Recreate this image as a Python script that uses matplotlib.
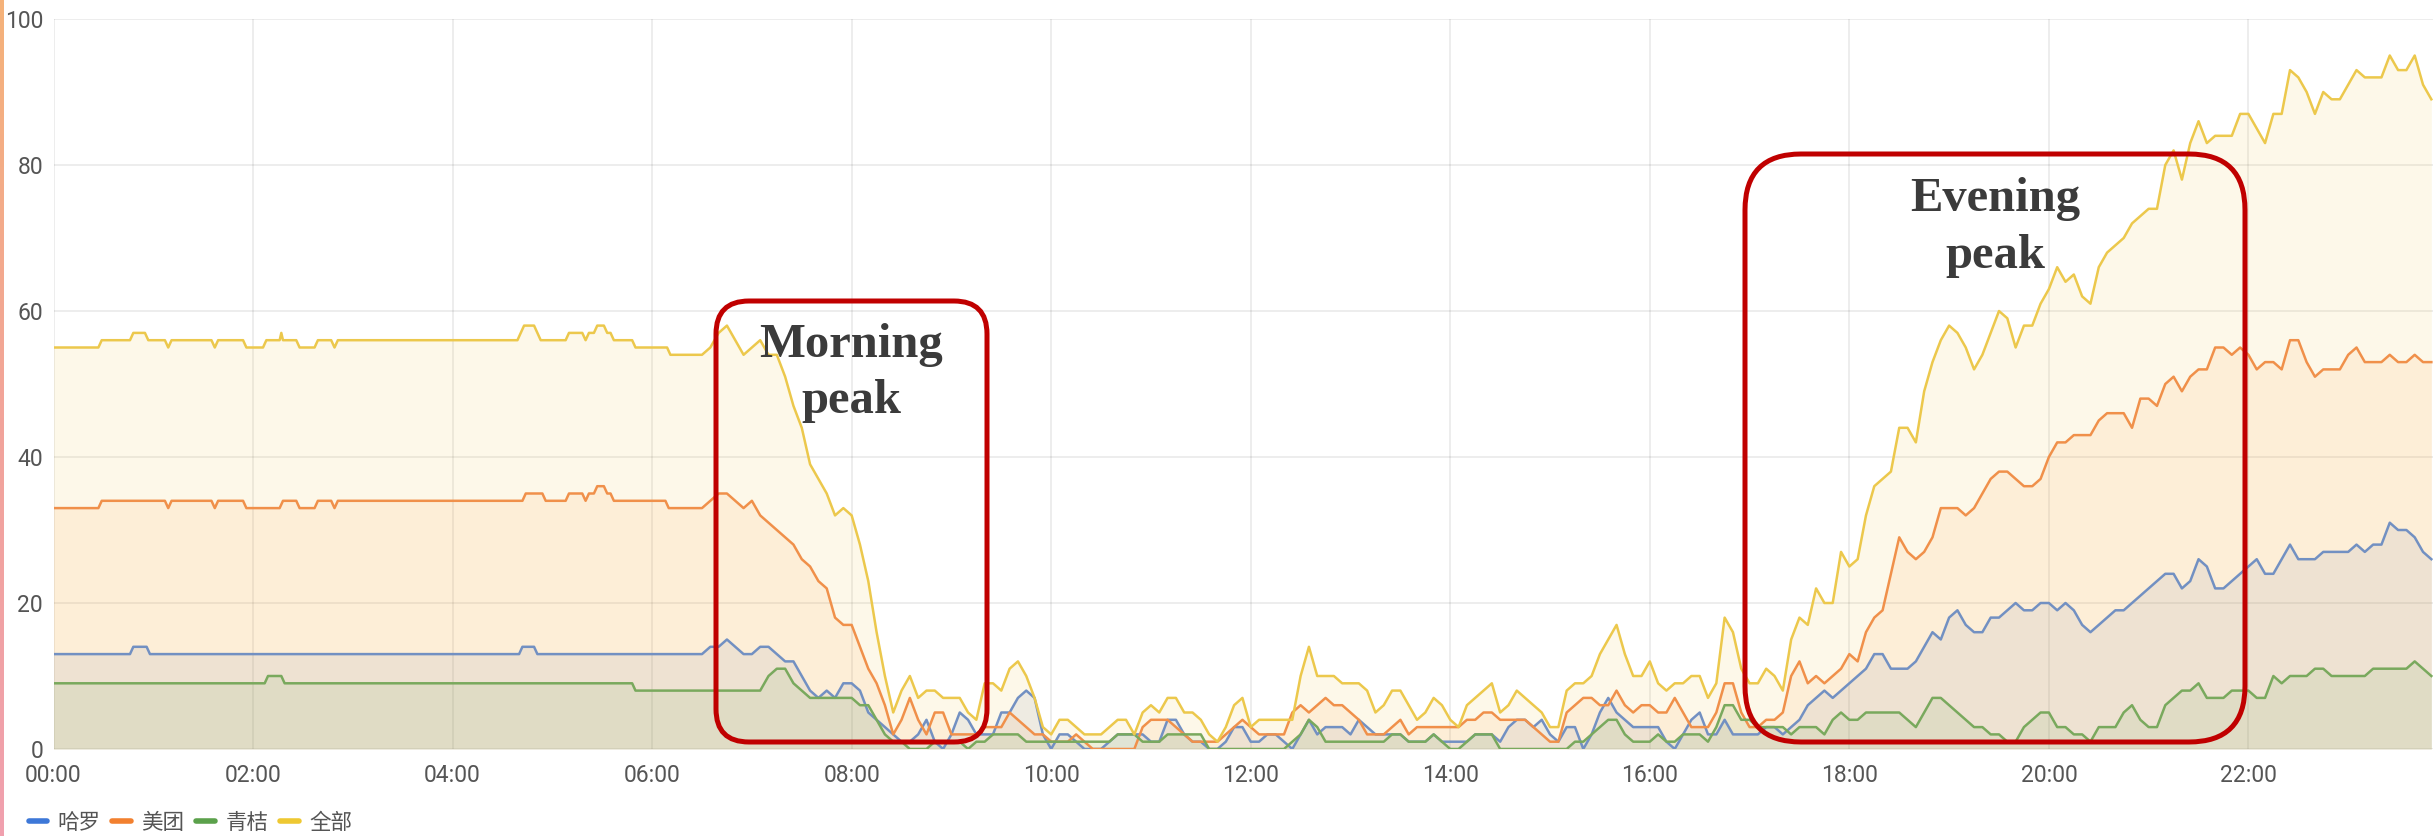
import numpy as np
import matplotlib.pyplot as plt
from matplotlib.lines import Line2D
from matplotlib.patches import FancyBboxPatch
from matplotlib.colors import LinearSegmentedColormap

plt.rcParams['font.family'] = ['Roboto', 'Noto Sans CJK SC', 'DejaVu Sans']

names = ['哈罗', '美团', '青桔', '全部']
line_colors = ['#7290c2', '#f0904a', '#79a95d', '#ecc84c']
legend_colors = ['#3d78d8', '#f2802f', '#5ba14b', '#eec832']
fill_colors = ['#6e82aa', '#ff7a10', '#56a64b', '#f0c850']
fill_alpha = [0.10, 0.08, 0.09, 0.12]

# 00:00-06:25 the counts hardly move, so only the steps are kept (minute, value)
quiet_t_hello = [0, 46, 48, 56, 58, 280, 282, 289, 291, 385]
quiet_hello = [13, 13, 14, 14, 13, 13, 14, 14, 13, 13]

quiet_t_meituan = [0, 27, 29, 67, 69, 71, 95, 97, 99, 114, 116, 136, 138, 146, 148,
                   157, 159, 167, 169, 171, 282, 284, 294, 296, 308, 310, 318, 320,
                   322, 325, 327, 331, 333, 335, 337, 368, 370, 385]
quiet_meituan = [33, 33, 34, 34, 33, 34, 34, 33, 34, 34, 33, 33, 34, 34, 33,
                 33, 34, 34, 33, 34, 34, 35, 35, 34, 34, 35, 35, 34,
                 35, 35, 36, 36, 35, 35, 34, 34, 33, 33]

quiet_t_qingju = [0, 127, 129, 137, 139, 348, 350, 385]
quiet_qingju = [9, 9, 10, 10, 9, 9, 8, 8]

quiet_t_all = [0, 27, 29, 46, 48, 55, 57, 67, 69, 71, 95, 97, 99, 114, 116, 126, 128,
               136, 137, 138, 146, 148, 157, 159, 167, 169, 171, 279, 281, 283, 289,
               291, 293, 308, 310, 318, 320, 322, 325, 327, 331, 333, 335, 337, 348,
               350, 369, 371, 385]
quiet_all = [55, 55, 56, 56, 57, 57, 56, 56, 55, 56, 56, 55, 56, 56, 55, 55, 56,
             56, 57, 56, 56, 55, 55, 56, 56, 55, 56, 56, 57, 58, 58,
             57, 56, 56, 57, 57, 56, 57, 57, 58, 58, 57, 57, 56, 56,
             55, 55, 54, 54]

# from 06:30 on: one reading every 5 minutes (rows are hours)
busy_t = list(range(390, 1431, 5))

busy_hello = [
    13, 14, 14, 15, 14, 13,
    13, 14, 14, 13, 12, 12, 10, 8, 7, 8, 7, 9,
    9, 8, 5, 4, 3, 2, 1, 1, 2, 4, 1, 0,
    2, 5, 4, 2, 2, 2, 5, 5, 7, 8, 7, 2,
    0, 2, 2, 1, 0, 0, 0, 1, 2, 2, 2, 2,
    1, 1, 4, 4, 2, 1, 1, 0, 0, 1, 3, 3,
    1, 1, 2, 2, 1, 0, 2, 4, 2, 3, 3, 3,
    2, 4, 3, 2, 2, 2, 2, 1, 1, 1, 2, 1,
    1, 1, 1, 2, 2, 2, 1, 3, 4, 4, 3, 4,
    2, 1, 3, 3, 0, 2, 5, 7, 5, 4, 3, 3,
    3, 3, 1, 0, 2, 4, 5, 2, 2, 4, 2, 2,
    2, 2, 3, 3, 2, 3, 4, 6, 7, 8, 7, 8,
    9, 10, 11, 13, 13, 11, 11, 11, 12, 14, 16, 15,
    18, 19, 17, 16, 16, 18, 18, 19, 20, 19, 19, 20,
    20, 19, 20, 19, 17, 16, 17, 18, 19, 19, 20, 21,
    22, 23, 24, 24, 22, 23, 26, 25, 22, 22, 23, 24,
    25, 26, 24, 24, 26, 28, 26, 26, 26, 27, 27, 27,
    27, 28, 27, 28, 28, 31, 30, 30, 29, 27, 26]

busy_meituan = [
    33, 34, 35, 35, 34, 33,
    34, 32, 31, 30, 29, 28, 26, 25, 23, 22, 18, 17,
    17, 14, 11, 9, 6, 2, 4, 7, 4, 2, 5, 5,
    2, 2, 2, 2, 3, 3, 3, 5, 4, 3, 2, 2,
    1, 1, 1, 2, 1, 0, 0, 0, 0, 0, 0, 3,
    4, 4, 4, 3, 2, 1, 1, 1, 1, 2, 3, 4,
    3, 2, 2, 2, 2, 5, 6, 5, 6, 7, 6, 6,
    5, 4, 2, 2, 2, 3, 4, 2, 3, 3, 3, 3,
    3, 3, 4, 4, 5, 5, 4, 4, 4, 4, 3, 2,
    1, 1, 5, 6, 7, 7, 6, 6, 8, 6, 5, 6,
    6, 5, 5, 7, 5, 3, 3, 3, 5, 9, 9, 5,
    3, 3, 4, 4, 5, 10, 12, 9, 10, 9, 10, 11,
    13, 12, 16, 18, 19, 24, 29, 27, 26, 27, 29, 33,
    33, 33, 32, 33, 35, 37, 38, 38, 37, 36, 36, 37,
    40, 42, 42, 43, 43, 43, 45, 46, 46, 46, 44, 48,
    48, 47, 50, 51, 49, 51, 52, 52, 55, 55, 54, 55,
    54, 52, 53, 53, 52, 56, 56, 53, 51, 52, 52, 52,
    54, 55, 53, 53, 53, 54, 53, 53, 54, 53, 53]

busy_qingju = [
    8, 8, 8, 8, 8, 8,
    8, 8, 10, 11, 11, 9, 8, 7, 7, 7, 7, 7,
    7, 6, 6, 4, 2, 1, 1, 0, 0, 0, 1, 1,
    1, 1, 0, 1, 1, 2, 2, 2, 2, 1, 1, 1,
    1, 1, 1, 1, 1, 1, 1, 1, 2, 2, 2, 1,
    1, 1, 2, 2, 2, 2, 2, 0, 0, 0, 0, 0,
    0, 0, 0, 0, 0, 1, 2, 4, 3, 1, 1, 1,
    1, 1, 1, 1, 1, 2, 2, 1, 1, 1, 2, 1,
    0, 0, 1, 2, 2, 2, 0, 0, 0, 0, 0, 0,
    0, 0, 0, 1, 1, 2, 3, 4, 4, 2, 1, 1,
    1, 2, 1, 1, 2, 2, 2, 1, 3, 6, 6, 4,
    4, 3, 3, 3, 3, 2, 3, 3, 3, 2, 4, 5,
    4, 4, 5, 5, 5, 5, 5, 4, 3, 5, 7, 7,
    6, 5, 4, 3, 3, 2, 2, 1, 1, 3, 4, 5,
    5, 3, 3, 2, 2, 1, 3, 3, 3, 5, 6, 4,
    3, 3, 6, 7, 8, 8, 9, 7, 7, 7, 8, 8,
    8, 7, 7, 10, 9, 10, 10, 10, 11, 11, 10, 10,
    10, 10, 10, 11, 11, 11, 11, 11, 12, 11, 10]

busy_all = [
    54, 55, 57, 58, 56, 54,
    55, 56, 54, 54, 51, 47, 44, 39, 37, 35, 32, 33,
    32, 28, 23, 16, 10, 5, 8, 10, 7, 8, 8, 7,
    7, 7, 5, 4, 9, 9, 8, 11, 12, 10, 7, 3,
    2, 4, 4, 3, 2, 2, 2, 3, 4, 4, 2, 5,
    6, 5, 7, 7, 5, 5, 4, 2, 1, 3, 6, 7,
    3, 4, 4, 4, 4, 4, 10, 14, 10, 10, 10, 9,
    9, 9, 8, 5, 6, 8, 8, 6, 4, 5, 7, 6,
    4, 3, 6, 7, 8, 9, 5, 6, 8, 7, 6, 5,
    3, 3, 8, 9, 9, 10, 13, 15, 17, 13, 10, 10,
    12, 9, 8, 9, 9, 10, 10, 7, 9, 18, 16, 11,
    9, 9, 11, 10, 8, 15, 18, 17, 22, 20, 20, 27,
    25, 26, 32, 36, 37, 38, 44, 44, 42, 49, 53, 56,
    58, 57, 55, 52, 54, 57, 60, 59, 55, 58, 58, 61,
    63, 66, 64, 65, 62, 61, 66, 68, 69, 70, 72, 73,
    74, 74, 80, 82, 78, 83, 86, 83, 84, 84, 84, 87,
    87, 85, 83, 87, 87, 93, 92, 90, 87, 90, 89, 89,
    91, 93, 92, 92, 92, 95, 93, 93, 95, 91, 89]

series = [
    (quiet_t_hello + busy_t, quiet_hello + busy_hello),
    (quiet_t_meituan + busy_t, quiet_meituan + busy_meituan),
    (quiet_t_qingju + busy_t, quiet_qingju + busy_qingju),
    (quiet_t_all + busy_t, quiet_all + busy_all),
]

hour_ticks = list(range(0, 24, 2))
y_ticks = [0, 20, 40, 60, 80, 100]

W, H = 2433, 836
fig = plt.figure(figsize=(W / 100, H / 100), dpi=100)
ax = fig.add_axes([53.5 / W, 87 / H, 1 - 53.5 / W, 730 / H])

# fills first (total at the back), then lines
for i in [3, 1, 0, 2]:
    t, v = series[i]
    ax.fill_between(t, 0, v, color=fill_colors[i], alpha=fill_alpha[i], lw=0, zorder=1)
for i in range(4):
    t, v = series[i]
    ax.plot(t, v, color=line_colors[i], lw=1.8, zorder=2 + i)

ax.set_xlim(0, 1431)
ax.set_ylim(0, 100)
ax.set_xticks([h * 60 for h in hour_ticks])
ax.set_xticklabels([f'{h:02d}:00' for h in hour_ticks])
ax.set_yticks(y_ticks)
ax.tick_params(length=0, labelsize=16.5, labelcolor='#555555')
ax.tick_params(axis='x', pad=11)
ax.tick_params(axis='y', pad=7.5)
for s in ax.spines.values():
    s.set_visible(False)
ax.set_axisbelow(True)
ax.grid(True, color='#000000', alpha=0.08, lw=1.3)

handles = [Line2D([0], [0], color=c, lw=4, solid_capstyle='round') for c in legend_colors]
fig.legend(handles, names, loc='center left', bbox_to_anchor=(28.5 / W, 13 / H),
           ncol=4, frameon=False, borderpad=0, borderaxespad=0,
           handlelength=0.85, handletextpad=0.5, columnspacing=0.55,
           prop={'family': ['Noto Sans CJK SC'], 'size': 15.5}, labelcolor='#555555')

# the red highlight boxes, in inches from the lower left corner
red = '#c00000'
fig.add_artist(FancyBboxPatch((7.16, 0.94), 2.71, 4.41, boxstyle='round,pad=0,rounding_size=0.33',
                              transform=fig.dpi_scale_trans, fill=False, ec=red, lw=3.6, zorder=20))
fig.add_artist(FancyBboxPatch((17.45, 0.94), 5.0, 5.88, boxstyle='round,pad=0,rounding_size=0.56',
                              transform=fig.dpi_scale_trans, fill=False, ec=red, lw=3.6, zorder=20))

note = dict(family='Liberation Serif', weight='bold', size=35, color='#3b3b3b',
            ha='center', va='baseline', transform=fig.dpi_scale_trans, zorder=21)
fig.text(8.515, 4.79, 'Morning', **note)
fig.text(8.515, 4.23, 'peak', **note)
fig.text(19.95, 6.25, 'Evening', **note)
fig.text(19.95, 5.68, 'peak', **note)

# thin orange-pink strip at the very left edge of the screenshot
strip = fig.add_axes([0, 0, 4 / W, 1])
strip_cmap = LinearSegmentedColormap.from_list('strip', ['#f5b27a', '#f2a49a', '#f0a0ae'])
strip.imshow(np.linspace(0, 1, 50).reshape(-1, 1), aspect='auto', cmap=strip_cmap)
strip.axis('off')

fig.savefig('out.png', dpi=100)
